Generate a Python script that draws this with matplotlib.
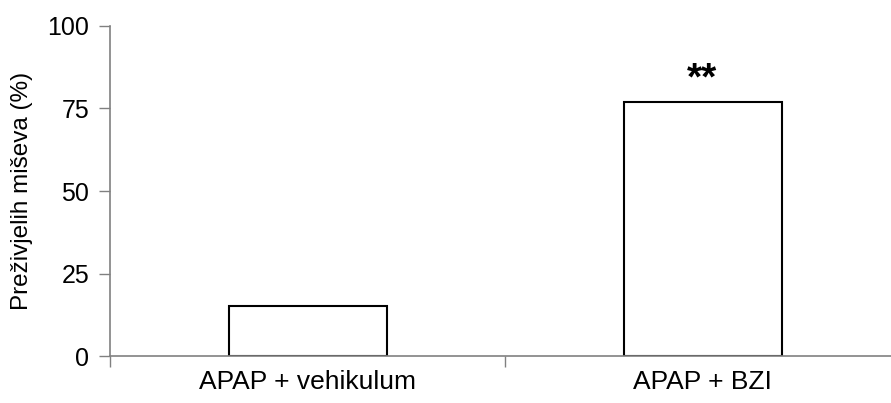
import matplotlib.pyplot as plt

# Survival data per group
groups = ["APAP + vehikulum", "APAP + BZI"]
survival = [15.4, 76.9]
significance = ["", "**"]
yticks = [0, 25, 50, 75, 100]

plt.rcParams['font.family'] = ['Liberation Sans', 'DejaVu Sans']

fig = plt.figure(figsize=(8.91, 4.03), dpi=100)
ax = fig.add_axes([0.1235, 0.1154, 0.8866, 0.821])

x = range(len(groups))
bars = ax.bar(x, survival, width=0.40, color="white", edgecolor="black", linewidth=1.5, zorder=3)

# significance stars above bars
for xi, val, sig in zip(x, survival, significance):
    if sig:
        ax.annotate(sig, xy=(xi, val), xytext=(0, 9), textcoords="offset points",
                    ha="center", va="baseline", fontsize=28, fontweight="bold")

ax.set_xlim(-0.5, 1.5)
ax.set_ylim(0, 100)
ax.set_yticks(yticks)
ax.set_yticklabels([str(t) for t in yticks], fontsize=18)

# category labels centred, ticks on category boundaries
ax.set_xticks([-0.5, 0.5, 1.5])
ax.set_xticklabels(["", "", ""])
ax.set_xticks(list(x), minor=True)
ax.set_xticklabels(groups, minor=True, fontsize=19)
ax.tick_params(axis="x", which="minor", length=0, pad=10)
ax.tick_params(axis="x", which="major", length=8, width=1, color="#808080", direction="out")
ax.tick_params(axis="y", length=8, width=1, color="#808080", direction="out", pad=7)

ax.set_ylabel("Preživjelih miševa (%)", fontsize=17.5, labelpad=10)

for side in ["top", "right"]:
    ax.spines[side].set_visible(False)
for side in ["left", "bottom"]:
    ax.spines[side].set_color("#808080")
    ax.spines[side].set_linewidth(1.2)
ax.spines["bottom"].set_zorder(4)

fig.savefig("out.png", dpi=100)
